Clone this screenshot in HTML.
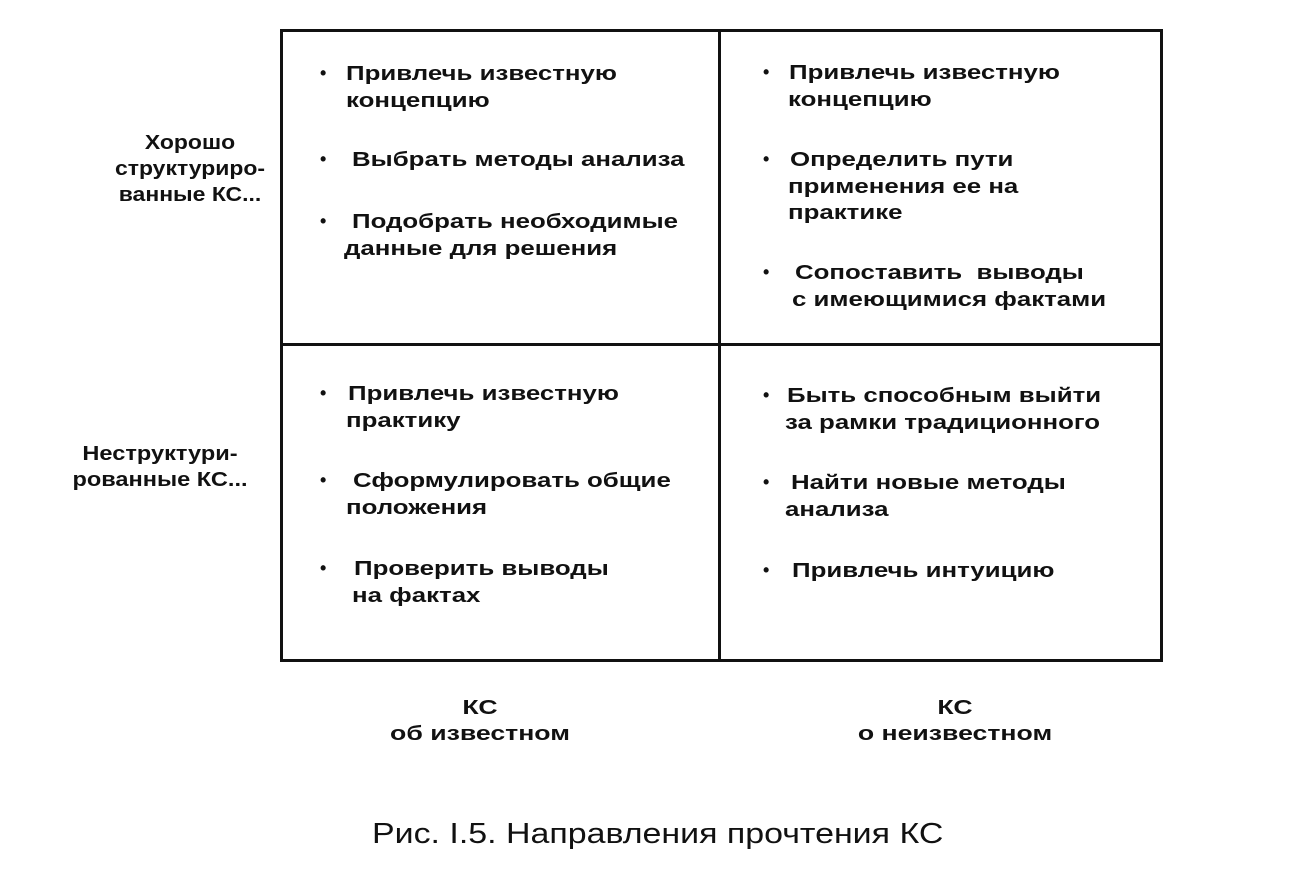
<!DOCTYPE html>
<html><head><meta charset="utf-8"><style>
body{margin:0;width:1314px;height:877px;background:#fff;position:relative;overflow:hidden;font-family:"Liberation Sans","DejaVu Sans",sans-serif;color:#111}
.l{position:absolute;font-weight:bold;font-size:20.5px;white-space:nowrap;line-height:24px;transform:translateY(-12px) scaleX(1.26);transform-origin:0 50%}
.b{position:absolute;font-weight:bold;font-size:18px;line-height:24px;transform:translateY(-13px)}
.ln{position:absolute;background:#111}
.c{position:absolute;font-weight:bold;font-size:20.5px;text-align:center;line-height:26px}
</style></head><body>
<div class="ln" style="left:280px;top:29px;width:883px;height:3px"></div>
<div class="ln" style="left:280px;top:659px;width:883px;height:3px"></div>
<div class="ln" style="left:280px;top:29px;width:3px;height:633px"></div>
<div class="ln" style="left:1160px;top:29px;width:3px;height:633px"></div>
<div class="ln" style="left:718px;top:29px;width:3px;height:633px"></div>
<div class="ln" style="left:280px;top:343px;width:883px;height:3px"></div>

<div class="c" style="left:95px;top:130px;width:190px;transform:scaleX(1.12)">Хорошо<br>структуриро-<br>ванные КС...</div>
<div class="c" style="left:45px;top:441px;width:230px;transform:scaleX(1.15)">Неструктури-<br>рованные КС...</div>

<div class="b" style="left:320px;top:74px">•</div><div class="l" style="left:346px;top:74px">Привлечь известную</div>
<div class="l" style="left:346px;top:101px">концепцию</div>
<div class="b" style="left:320px;top:160px">•</div><div class="l" style="left:352px;top:160px">Выбрать методы анализа</div>
<div class="b" style="left:320px;top:222px">•</div><div class="l" style="left:352px;top:222px">Подобрать необходимые</div>
<div class="l" style="left:344px;top:249px">данные для решения</div>

<div class="b" style="left:763px;top:73px">•</div><div class="l" style="left:789px;top:73px">Привлечь известную</div>
<div class="l" style="left:788px;top:100px">концепцию</div>
<div class="b" style="left:763px;top:160px">•</div><div class="l" style="left:790px;top:160px">Определить пути</div>
<div class="l" style="left:788px;top:187px">применения ее на</div>
<div class="l" style="left:788px;top:213px">практике</div>
<div class="b" style="left:763px;top:273px">•</div><div class="l" style="left:795px;top:273px">Сопоставить&nbsp; выводы</div>
<div class="l" style="left:792px;top:300px">с имеющимися фактами</div>

<div class="b" style="left:320px;top:394px">•</div><div class="l" style="left:348px;top:394px">Привлечь известную</div>
<div class="l" style="left:346px;top:421px">практику</div>
<div class="b" style="left:320px;top:481px">•</div><div class="l" style="left:353px;top:481px">Сформулировать общие</div>
<div class="l" style="left:346px;top:508px">положения</div>
<div class="b" style="left:320px;top:569px">•</div><div class="l" style="left:354px;top:569px">Проверить выводы</div>
<div class="l" style="left:352px;top:596px">на фактах</div>

<div class="b" style="left:763px;top:396px">•</div><div class="l" style="left:787px;top:396px">Быть способным выйти</div>
<div class="l" style="left:785px;top:423px">за рамки традиционного</div>
<div class="b" style="left:763px;top:483px">•</div><div class="l" style="left:791px;top:483px">Найти новые методы</div>
<div class="l" style="left:785px;top:510px">анализа</div>
<div class="b" style="left:763px;top:571px">•</div><div class="l" style="left:792px;top:571px">Привлечь интуицию</div>

<div class="c" style="left:330px;top:695px;width:300px;transform:scaleX(1.3)">КС<br>об известном</div>
<div class="c" style="left:805px;top:695px;width:300px;transform:scaleX(1.3)">КС<br>о неизвестном</div>

<div style="position:absolute;left:372px;top:818px;font-size:29px;white-space:nowrap;transform:scaleX(1.17);transform-origin:0 0">Рис. I.5. Направления прочтения КС</div>
</body></html>
